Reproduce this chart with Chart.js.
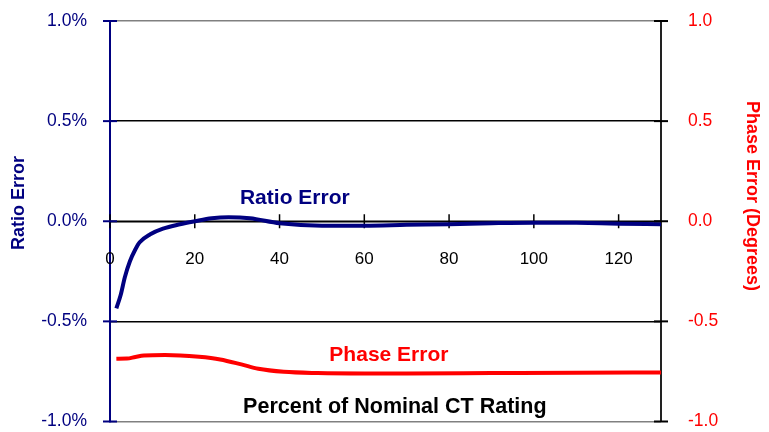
<!DOCTYPE html>
<html>
<head>
<meta charset="utf-8">
<script src="https://cdn.jsdelivr.net/npm/chart.js@4/dist/chart.umd.min.js"></script>
<style>
html,body{margin:0;padding:0;background:#fff;}
#wrap{width:769px;height:432px;position:relative;}
</style>
</head>
<body>
<div id="wrap"><canvas id="c" width="769" height="432"></canvas></div>
<script>
// ---- data ----
const xTickValues = [0, 20, 40, 60, 80, 100, 120];
const ratioX = [1.5, 2.5, 3.5, 4.7, 6, 7, 9.5, 12.5, 16.5, 20, 24, 28, 33, 40, 50, 60, 70, 80, 90, 100, 110, 120, 130];
const ratioY = [-0.435, -0.37, -0.28, -0.2, -0.14, -0.105, -0.065, -0.037, -0.015, 0, 0.015, 0.02, 0.015, -0.01, -0.022, -0.022, -0.018, -0.015, -0.01, -0.007, -0.008, -0.012, -0.015];
const phaseX = [1.5, 4, 6, 8, 13, 21, 26, 31, 35, 41, 49, 60, 70, 90, 110, 130];
const phaseY = [-0.687, -0.686, -0.678, -0.671, -0.668, -0.677, -0.69, -0.715, -0.737, -0.752, -0.758, -0.76, -0.76, -0.758, -0.756, -0.755];

const FONT = '"Liberation Sans", Arial, sans-serif';
const NAVY = '#000080';
const RED = '#ff0000';

const overlay = {
  id: 'overlay',
  beforeDatasetsDraw(chart) {
    const {ctx, chartArea: a, scales: {x, y}} = chart;
    const y0 = y.getPixelForValue(0);
    ctx.save();
    ctx.strokeStyle = '#000'; ctx.lineWidth = 1.5;
    ctx.beginPath(); ctx.moveTo(a.left, y0); ctx.lineTo(a.right, y0); ctx.stroke();
    x.ticks.forEach(t => {
      const px = x.getPixelForValue(t.value);
      ctx.beginPath(); ctx.moveTo(px, y0 - 7); ctx.lineTo(px, y0 + 7); ctx.stroke();
    });
    ctx.fillStyle = '#000';
    ctx.font = '17px ' + FONT;
    ctx.textAlign = 'center'; ctx.textBaseline = 'middle';
    x.ticks.forEach(t => {
      ctx.fillText(String(t.value), x.getPixelForValue(t.value), y0 + 38);
    });
    ctx.restore();
  },
  afterDraw(chart) {
    const {ctx, chartArea: a, scales: {x, y, y2}} = chart;
    ctx.save();
    const seg = (x1, y1, x2, y2_) => { ctx.beginPath(); ctx.moveTo(x1, y1); ctx.lineTo(x2, y2_); ctx.stroke(); };
    ctx.strokeStyle = NAVY; ctx.lineWidth = 2;
    y.ticks.forEach(t => { const py = y.getPixelForValue(t.value); seg(a.left - 7, py, a.left + 7, py); });
    ctx.strokeStyle = '#000'; ctx.lineWidth = 2;
    y2.ticks.forEach(t => { const py = y2.getPixelForValue(t.value); seg(a.right - 7, py, a.right + 7, py); });

    ctx.textAlign = 'center'; ctx.textBaseline = 'middle';
    ctx.font = 'bold 21px ' + FONT;
    ctx.fillStyle = NAVY;
    ctx.fillText('Ratio Error', x.getPixelForValue(43.6), y.getPixelForValue(0.117));
    ctx.fillStyle = RED;
    ctx.fillText('Phase Error', x.getPixelForValue(65.8), y2.getPixelForValue(-0.671));
    ctx.fillStyle = '#000';
    ctx.font = 'bold 21.5px ' + FONT;
    ctx.fillText('Percent of Nominal CT Rating', x.getPixelForValue(67.2), y.getPixelForValue(-0.93));

    ctx.font = 'bold 18px ' + FONT;
    ctx.save();
    ctx.translate(19.5, 203); ctx.rotate(-Math.PI / 2);
    ctx.fillStyle = NAVY; ctx.fillText('Ratio Error', 0, 0);
    ctx.restore();
    ctx.save();
    ctx.translate(752, 196); ctx.rotate(Math.PI / 2);
    ctx.fillStyle = RED; ctx.fillText('Phase Error (Degrees)', 0, 0);
    ctx.restore();
    ctx.restore();
  }
};

new Chart(document.getElementById('c'), {
  type: 'line',
  data: {
    datasets: [
      {
        label: 'Ratio Error',
        data: ratioX.map((v, i) => ({x: v, y: ratioY[i]})),
        yAxisID: 'y',
        borderColor: NAVY,
        borderWidth: 4,
        pointRadius: 0,
        cubicInterpolationMode: 'monotone',
        fill: false
      },
      {
        label: 'Phase Error',
        data: phaseX.map((v, i) => ({x: v, y: phaseY[i]})),
        yAxisID: 'y2',
        borderColor: RED,
        borderWidth: 4,
        pointRadius: 0,
        cubicInterpolationMode: 'monotone',
        fill: false
      }
    ]
  },
  options: {
    responsive: false,
    animation: false,
    devicePixelRatio: 1,
    layout: {padding: {top: 21, bottom: 10, left: 0, right: 0}},
    plugins: {legend: {display: false}, tooltip: {enabled: false}},
    scales: {
      x: {
        type: 'linear',
        min: 0, max: 130,
        display: false,
        afterBuildTicks: s => { s.ticks = xTickValues.map(v => ({value: v})); }
      },
      y: {
        position: 'left',
        min: -1, max: 1,
        afterFit: s => { s.width = 110; },
        ticks: {stepSize: 0.5, color: NAVY, padding: 0, font: {family: FONT, size: 17.5},
                callback: v => v.toFixed(1) + '%'},
        grid: {drawTicks: true, tickLength: 23, tickColor: 'rgba(0,0,0,0)', lineWidth: 1.5,
               color: c => (Math.abs(c.tick.value) === 1 ? '#808080' : '#000')},
        border: {color: NAVY, width: 2}
      },
      y2: {
        position: 'right',
        min: -1, max: 1,
        afterFit: s => { s.width = 108; },
        ticks: {stepSize: 0.5, color: RED, padding: 0, font: {family: FONT, size: 17.5},
                callback: v => v.toFixed(1)},
        grid: {drawOnChartArea: false, drawTicks: true, tickLength: 27, tickColor: 'rgba(0,0,0,0)'},
        border: {color: '#222', width: 2}
      }
    }
  },
  plugins: [overlay]
});
</script>
</body>
</html>
